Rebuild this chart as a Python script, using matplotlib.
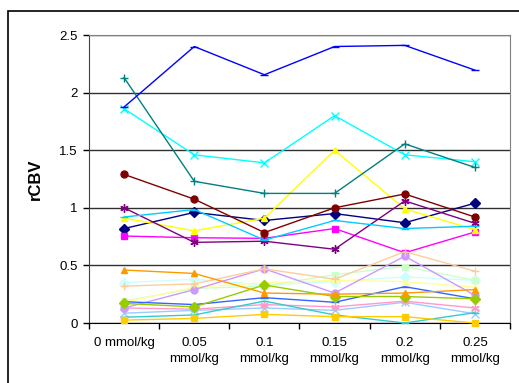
import matplotlib
matplotlib.use("Agg")
import matplotlib.pyplot as plt
from matplotlib.patches import Rectangle

plt.rcParams['font.family'] = ['Liberation Sans', 'DejaVu Sans']

doses = ["0 mmol/kg", "0.05\nmmol/kg", "0.1\nmmol/kg", "0.15\nmmol/kg",
         "0.2\nmmol/kg", "0.25\nmmol/kg"]

# one list per subject
s_navy = [0.82, 0.96, 0.89, 0.95, 0.87, 1.04]
s_magenta = [0.755, 0.74, 0.735, 0.82, 0.61, 0.79]
s_yellow = [0.91, 0.80, 0.91, 1.50, 0.99, 0.81]
s_cyan = [1.86, 1.46, 1.39, 1.80, 1.46, 1.40]
s_purple = [1.00, 0.70, 0.71, 0.64, 1.06, 0.865]
s_darkred = [1.29, 1.075, 0.785, 1.00, 1.12, 0.92]
s_teal = [2.13, 1.23, 1.125, 1.125, 1.555, 1.35]
s_blue = [1.875, 2.40, 2.155, 2.40, 2.41, 2.195]
s_skyblue = [0.92, 0.985, 0.72, 0.89, 0.82, 0.84]
s_lightcyan = [0.35, 0.38, 0.33, 0.36, 0.40, 0.37]
s_lightgreen = [0.19, 0.30, 0.32, 0.42, 0.49, 0.37]
s_lightyellow = [0.18, 0.31, 0.35, 0.37, 0.36, 0.31]
s_paleblue = [0.085, 0.11, 0.13, 0.11, 0.18, 0.08]
s_pink = [0.13, 0.12, 0.16, 0.14, 0.19, 0.13]
s_lavender = [0.13, 0.29, 0.47, 0.26, 0.58, 0.24]
s_tan = [0.32, 0.34, 0.47, 0.38, 0.62, 0.45]
s_royal = [0.185, 0.16, 0.22, 0.18, 0.315, 0.21]
s_turq = [0.05, 0.07, 0.19, 0.07, 0.0, 0.09]
s_lime = [0.17, 0.14, 0.33, 0.23, 0.23, 0.21]
s_gold = [0.025, 0.04, 0.075, 0.055, 0.055, 0.0]
s_orange = [0.46, 0.43, 0.26, 0.25, 0.26, 0.29]

series = [
    (s_navy, '#000080', 'D'),
    (s_magenta, '#FF00FF', 's'),
    (s_yellow, '#FFFF00', '^'),
    (s_cyan, '#00FFFF', 'x'),
    (s_purple, '#800080', (6, 2, 0)),
    (s_darkred, '#800000', 'o'),
    (s_teal, '#008080', '+'),
    (s_blue, '#0000FF', '_'),
    (s_skyblue, '#00CCFF', '_'),
    (s_lightcyan, '#CCFFFF', 'D'),
    (s_lightgreen, '#CCFFCC', 's'),
    (s_lightyellow, '#FFFF99', '^'),
    (s_paleblue, '#99CCFF', 'x'),
    (s_pink, '#FF99CC', (6, 2, 0)),
    (s_lavender, '#CC99FF', 'o'),
    (s_tan, '#FFCC99', '+'),
    (s_royal, '#3366FF', '_'),
    (s_turq, '#33CCCC', '_'),
    (s_lime, '#99CC00', 'D'),
    (s_gold, '#FFCC00', 's'),
    (s_orange, '#FF9900', '^'),
]

fig = plt.figure(figsize=(5.19, 3.83), dpi=100)
ax = fig.add_axes([89/519, 1 - 323/383, 421/519, 288/383])

# chart area border (runs off the right/bottom of the image)
fig.patches.append(Rectangle((8/519, -0.1), 1.0, 1.1 - 11/383, transform=fig.transFigure,
                             fill=False, edgecolor='black', lw=1.2))

x = list(range(len(doses)))
for vals, col, mk in series:
    small = mk in ('x', '+', '_') or isinstance(mk, tuple)
    ax.plot(x, vals, color=col, lw=1.0, marker=mk,
            markersize=6 if small else 5, markeredgewidth=1.0,
            markerfacecolor=col, markeredgecolor=col, clip_on=False, zorder=3)

ax.set_xlim(-0.5, 5.5)
ax.set_ylim(0, 2.5)
ax.set_yticks([0, 0.5, 1, 1.5, 2, 2.5])
ax.set_yticklabels(['0', '0.5', '1', '1.5', '2', '2.5'])
ax.set_xticks(x)
ax.set_xticklabels(doses)
ax.set_xticks([i - 0.5 for i in range(len(doses) + 1)], minor=True)
ax.tick_params(axis='x', which='major', length=0, pad=10, labelsize=9.5)
ax.tick_params(axis='x', which='minor', length=4, width=1, direction='out')
ax.tick_params(axis='y', length=4, width=1, pad=4, labelsize=9.5)
for lab in ax.get_xticklabels():
    lab.set_linespacing(1.5)

ax.yaxis.grid(True, color='#303030', lw=1)
ax.set_axisbelow(True)
ax.spines['top'].set_color('#808080')
ax.spines['right'].set_color('#808080')
ax.spines['left'].set_color('#404040')
ax.spines['bottom'].set_color('black')

ax.set_ylabel('rCBV', fontsize=12, fontweight='bold')
ax.yaxis.set_label_coords(-0.11, 0.5)

fig.savefig('out.png', dpi=100)
